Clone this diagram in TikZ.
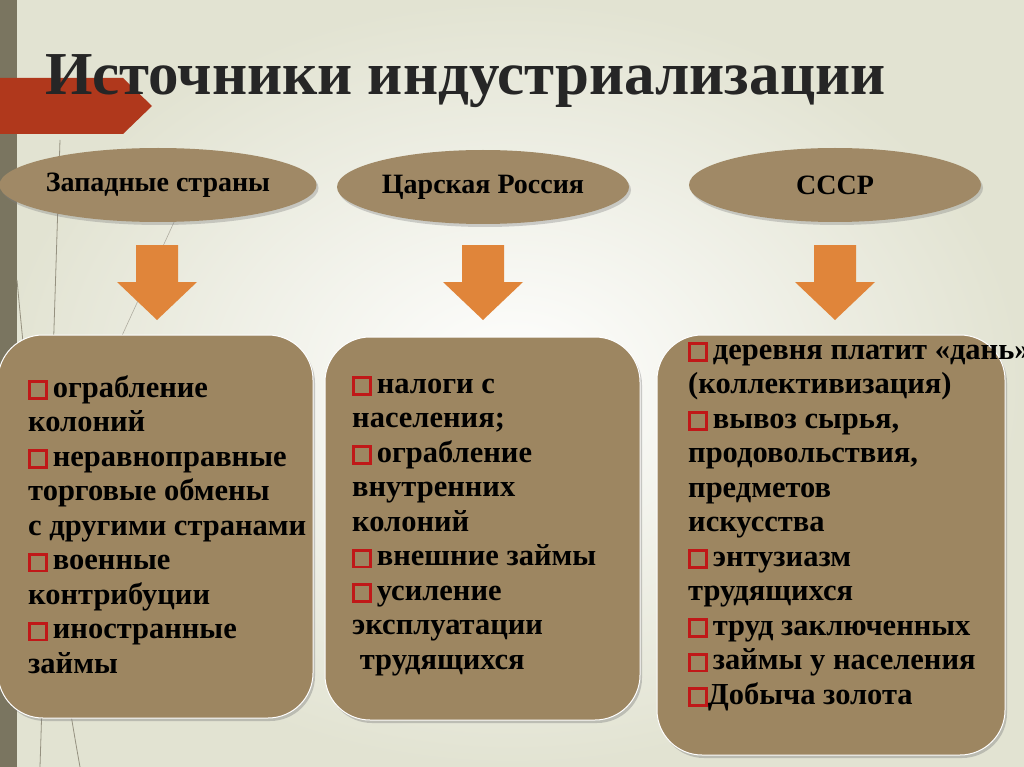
\documentclass[tikz,border=0pt]{standalone}
\usepackage{fontspec}
\setmainfont{Liberation Serif}
\usetikzlibrary{shapes.geometric,shadows}
\definecolor{bg}{HTML}{F1F2E8}
\definecolor{bgedge}{HTML}{E2E3D2}
\definecolor{barcol}{HTML}{7A7560}
\definecolor{banner}{HTML}{B0381C}
\definecolor{boxfill}{HTML}{9D8661}
\definecolor{ellfill}{HTML}{A08966}
\definecolor{arrowc}{HTML}{E0853A}
\definecolor{bulred}{HTML}{C01818}
\definecolor{titlec}{HTML}{262626}
\newcommand{\bul}{{\color{bulred}\fboxsep=0pt\fboxrule=2.8pt\fbox{\rule{0pt}{14pt}\hspace{14pt}}}\,}
\tikzset{
  ell/.style={ellipse, fill=ellfill, minimum width=292pt, minimum height=74pt, inner sep=0pt,
     font=\fontsize{28}{32}\selectfont\bfseries, drop shadow={opacity=0.35,shadow xshift=2pt,shadow yshift=-3pt}},
  sbox/.style={rounded corners=45pt, fill=boxfill, draw=white, line width=1pt,
     drop shadow={opacity=0.4,shadow xshift=2pt,shadow yshift=-3pt}},
  btext/.style={anchor=north west, align=left, inner sep=0pt, font=\fontsize{30.5}{34.5}\selectfont\bfseries, text=black},
  darrow/.style={fill=arrowc, draw=none}
}
\begin{document}
\begin{tikzpicture}[x=1pt,y=-1pt]
\useasboundingbox (0,0) rectangle (1024,767);
\shade[inner color=white, outer color=bgedge] (0,0) rectangle (1024,767);
\fill[barcol] (0,0) rectangle (17,767);
\draw[barcol!80, line width=0.8pt] (60,140) -- (40,767);
\draw[barcol!60, line width=0.6pt] (175,220) -- (120,340);
\draw[barcol!80, line width=0.8pt] (17,280) .. controls (30,420) and (50,600) .. (80,767);
\fill[banner] (0,78) -- (123,78) -- (152,106) -- (123,134) -- (0,134) -- cycle;
\node[anchor=base west, inner sep=0pt, font=\fontsize{61}{64}\selectfont\bfseries, text=titlec] (title) at (45,95) {Источники индустриализации};
\node[ell] (e1) at (158,185) {Западные страны};
\node[ell] (e2) at (483,187) {Царская Россия};
\node[ell] (e3) at (835,185) {СССР};
\foreach \x/\n in {157/a1,483/a2,835/a3}{
  \fill[darrow] (\x-21,245) -- (\x+21,245) -- (\x+21,282) -- (\x+40,282) -- (\x,320) -- (\x-40,282) -- (\x-21,282) -- cycle;
}
\draw[sbox] (-2,335) rectangle (313,718);
\draw[sbox] (325,337) rectangle (640,720);
\draw[sbox] (657,335) rectangle (1005,755);
\node[btext] (t1) at (28,375) {\bul ограбление\\колоний\\\bul неравноправные\\торговые обмены\\с другими странами\\\bul военные\\контрибуции\\\bul иностранные\\займы};
\node[btext] (t2) at (352,376) {\bul налоги с\\населения;\\\bul ограбление\\внутренних\\колоний\\\bul внешние займы\\\bul усиление\\эксплуатации\\\ трудящихся};
\node[btext] (t3) at (688,342) {\bul деревня платит «дань»\\(коллективизация)\\\bul вывоз сырья,\\продовольствия,\\предметов\\искусства\\\bul энтузиазм\\трудящихся\\\bul труд заключенных\\\bul займы у населения\\\bul\!Добыча золота};
\end{tikzpicture}
\end{document}
